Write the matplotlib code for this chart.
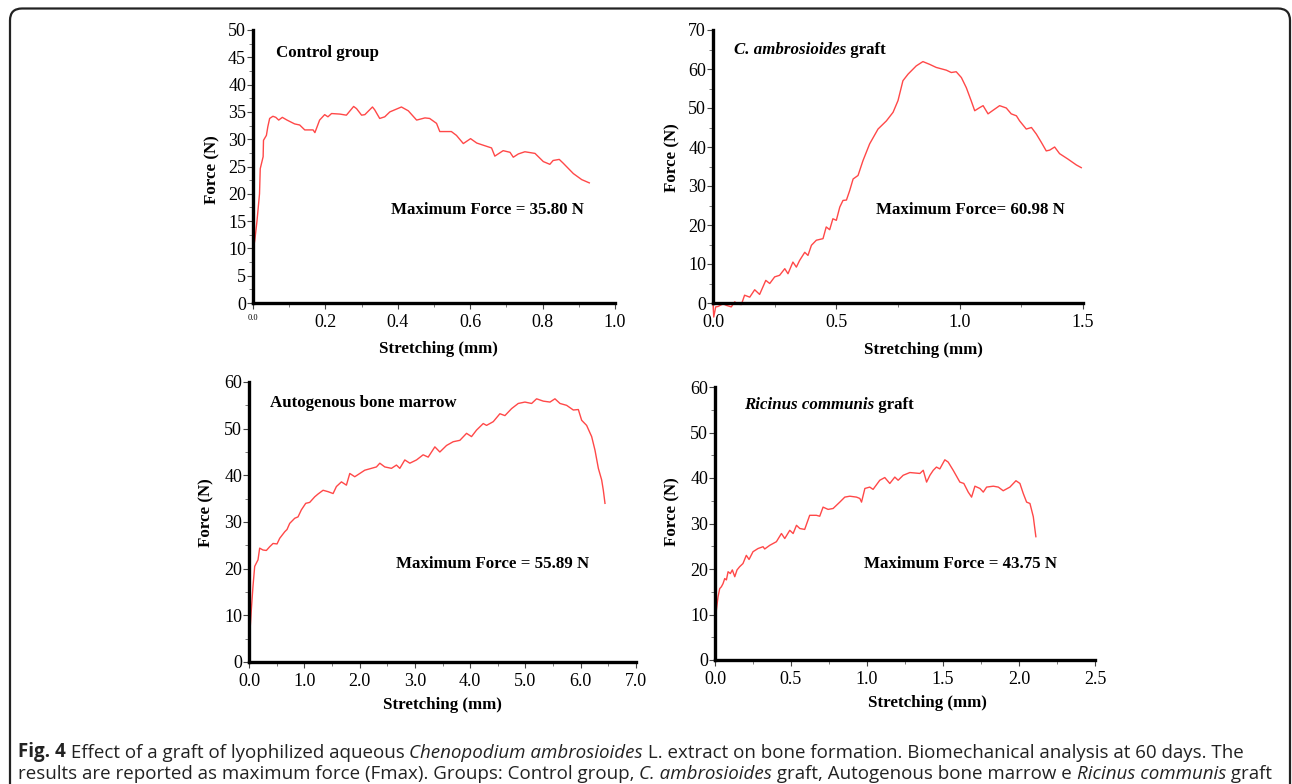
import matplotlib.pyplot as plt
from matplotlib.patches import FancyBboxPatch
from matplotlib.transforms import IdentityTransform
from matplotlib.ticker import MultipleLocator


# control group
x_ctrl = [0.0, 0.0, 0.005, 0.011, 0.018, 0.020, 0.028, 0.029, 0.037, 0.041, 0.046,
          0.055, 0.063, 0.071, 0.081, 0.094, 0.115, 0.129, 0.143, 0.166, 0.171,
          0.184, 0.198, 0.207, 0.217, 0.240, 0.258, 0.278, 0.286, 0.300, 0.309,
          0.330, 0.336, 0.350, 0.364, 0.378, 0.410, 0.429, 0.452, 0.475, 0.488,
          0.507, 0.516, 0.548, 0.562, 0.581, 0.601, 0.618, 0.636, 0.659, 0.668,
          0.691, 0.710, 0.719, 0.733, 0.751, 0.779, 0.802, 0.820, 0.829, 0.846,
          0.857, 0.885, 0.908, 0.929]
y_ctrl = [0.0, 9.6, 11.5, 15.0, 20.0, 24.6, 26.8, 29.8, 30.7, 32.3, 33.8,
          34.2, 34.0, 33.5, 34.0, 33.5, 32.8, 32.6, 31.7, 31.7, 31.2,
          33.5, 34.5, 34.1, 34.7, 34.6, 34.4, 36.0, 35.6, 34.4, 34.5,
          35.9, 35.4, 33.8, 34.1, 35.0, 35.9, 35.2, 33.5, 33.9, 33.8,
          32.9, 31.4, 31.4, 30.7, 29.2, 30.1, 29.3, 28.9, 28.4, 26.9,
          27.9, 27.6, 26.7, 27.3, 27.7, 27.4, 25.9, 25.4, 26.1, 26.3,
          25.6, 23.7, 22.6, 22.0]

# C. ambrosioides graft
x_camb = [0.000, 0.003, 0.011, 0.020, 0.041, 0.054, 0.074, 0.088, 0.101, 0.115,
          0.128, 0.149, 0.169, 0.189, 0.214, 0.230, 0.250, 0.270, 0.291, 0.304,
          0.324, 0.338, 0.351, 0.372, 0.385, 0.399, 0.419, 0.446, 0.459, 0.473,
          0.486, 0.500, 0.514, 0.527, 0.541, 0.554, 0.568, 0.588, 0.608, 0.635,
          0.669, 0.703, 0.730, 0.750, 0.770, 0.791, 0.824, 0.851, 0.878, 0.905,
          0.946, 0.966, 0.986, 1.007, 1.027, 1.047, 1.061, 1.081, 1.095, 1.115,
          1.135, 1.162, 1.189, 1.209, 1.230, 1.243, 1.270, 1.291, 1.311, 1.331,
          1.351, 1.365, 1.385, 1.405, 1.439, 1.473, 1.493]
y_camb = [0.0, -3.6, -1.0, -0.9, -0.2, -0.6, -1.0, 0.3, -0.3, -0.4,
          2.0, 1.5, 3.4, 2.2, 5.8, 5.0, 6.7, 7.1, 8.8, 7.5,
          10.5, 9.2, 10.9, 13.0, 12.2, 14.8, 16.1, 16.5, 19.5, 18.8,
          21.6, 21.2, 24.6, 26.3, 26.4, 28.8, 31.8, 32.7, 36.5, 40.8,
          44.6, 46.7, 48.9, 51.9, 57.0, 58.7, 60.8, 61.9, 61.2, 60.4,
          59.7, 59.1, 59.3, 57.8, 55.2, 51.8, 49.3, 50.1, 50.6, 48.5,
          49.4, 50.6, 50.0, 48.5, 48.0, 46.7, 44.6, 45.0, 43.3, 41.2,
          39.0, 39.2, 40.0, 38.3, 36.9, 35.4, 34.7]

# autogenous bone marrow
x_auto = [0.000, 0.012, 0.042, 0.072, 0.103, 0.163, 0.193, 0.253, 0.314, 0.374,
          0.435, 0.507, 0.555, 0.646, 0.688, 0.736, 0.827, 0.887, 0.947, 1.026,
          1.098, 1.189, 1.249, 1.340, 1.430, 1.521, 1.581, 1.672, 1.762, 1.823,
          1.913, 2.004, 2.094, 2.215, 2.305, 2.366, 2.456, 2.577, 2.667, 2.728,
          2.818, 2.909, 3.030, 3.150, 3.241, 3.362, 3.452, 3.573, 3.693, 3.814,
          3.935, 4.025, 4.116, 4.237, 4.297, 4.418, 4.538, 4.629, 4.750, 4.870,
          4.991, 5.112, 5.202, 5.323, 5.444, 5.534, 5.625, 5.745, 5.866, 5.957,
          6.017, 6.107, 6.198, 6.258, 6.319, 6.379, 6.409, 6.439]
y_auto = [0.0, 5.5, 11.2, 16.2, 20.5, 21.9, 24.4, 24.0, 23.9, 24.7,
          25.4, 25.3, 26.5, 27.9, 28.4, 29.7, 30.8, 31.1, 32.6, 34.0,
          34.2, 35.4, 36.0, 36.8, 36.5, 36.1, 37.6, 38.6, 37.9, 40.4,
          39.7, 40.4, 41.1, 41.5, 41.8, 42.6, 41.8, 41.5, 42.2, 41.5,
          43.3, 42.6, 43.3, 44.4, 43.9, 46.1, 45.0, 46.4, 47.2, 47.5,
          49.0, 48.3, 49.7, 51.1, 50.7, 51.5, 53.2, 52.8, 54.3, 55.4,
          55.7, 55.4, 56.4, 55.9, 55.7, 56.4, 55.4, 55.0, 54.0, 54.1,
          51.8, 50.7, 48.3, 45.4, 41.5, 39.0, 36.8, 34.0]

# Ricinus communis graft
x_ric = [0.000, 0.002, 0.009, 0.020, 0.031, 0.042, 0.053, 0.064, 0.075, 0.086,
         0.101, 0.114, 0.130, 0.145, 0.162, 0.184, 0.206, 0.224, 0.250, 0.283,
         0.316, 0.327, 0.360, 0.404, 0.437, 0.459, 0.492, 0.514, 0.536, 0.558,
         0.590, 0.623, 0.667, 0.689, 0.711, 0.744, 0.777, 0.821, 0.854, 0.887,
         0.931, 0.953, 0.964, 0.986, 1.018, 1.040, 1.084, 1.117, 1.150, 1.183,
         1.205, 1.238, 1.282, 1.348, 1.370, 1.392, 1.414, 1.436, 1.457, 1.479,
         1.512, 1.534, 1.567, 1.611, 1.637, 1.666, 1.688, 1.710, 1.743, 1.765,
         1.787, 1.831, 1.864, 1.896, 1.940, 1.980, 2.006, 2.028, 2.050, 2.072,
         2.094, 2.111]
y_ric = [0.0, 7.3, 11.0, 13.9, 15.7, 16.1, 16.8, 17.9, 17.6, 19.4,
         19.0, 19.8, 18.3, 19.8, 20.5, 21.2, 23.0, 22.1, 23.8, 24.5,
         24.9, 24.4, 25.2, 26.0, 27.8, 26.7, 28.5, 27.8, 29.6, 28.9,
         28.7, 31.8, 31.8, 31.6, 33.6, 33.1, 33.3, 34.7, 35.8, 36.0,
         35.8, 35.5, 34.7, 37.7, 38.0, 37.5, 39.5, 40.1, 38.8, 40.2,
         39.5, 40.6, 41.2, 41.0, 41.7, 39.1, 40.6, 41.7, 42.4, 42.0,
         44.0, 43.5, 41.7, 39.1, 38.8, 36.9, 35.8, 38.2, 37.7, 36.9,
         38.0, 38.2, 38.0, 37.2, 38.0, 39.4, 38.8, 36.6, 34.7, 34.4,
         31.5, 27.1]

W, H = 1292, 784
plt.rcParams['font.family'] = ['Liberation Serif', 'DejaVu Serif']
plt.rcParams['font.size'] = 13

fig = plt.figure(figsize=(W / 100, H / 100), dpi=100)

# rounded frame around the whole figure
frame = FancyBboxPatch((10, -30), 1280, H - 8.5 + 30,
                       boxstyle="round,pad=0,rounding_size=12",
                       transform=IdentityTransform(), facecolor='none',
                       edgecolor='#222222', linewidth=1.6)
fig.patches.append(frame)


def make_ax(left, top, right, bottom):
    ax = fig.add_axes([left / W, 1 - bottom / H, (right - left) / W, (bottom - top) / H])
    for s in ['top', 'right']:
        ax.spines[s].set_visible(False)
    for s in ['left', 'bottom']:
        ax.spines[s].set_linewidth(2.4)
    ax.tick_params(which='major', length=4, width=0.8, pad=1, color='#444444')
    ax.tick_params(which='minor', length=3, width=0.6, color='#666666')
    ax.tick_params(axis='x', pad=4)
    return ax


def labels(ax, xl, yl):
    # label centres given in pixels
    bb = ax.get_position()
    x0, x1 = bb.x0 * W, bb.x1 * W
    y0, y1 = (1 - bb.y1) * H, (1 - bb.y0) * H
    ax.set_xlabel('Stretching (mm)', fontweight='bold', fontsize=12.2, va='center')
    ax.set_ylabel('Force (N)', fontweight='bold', fontsize=12.2, va='center')
    ax.xaxis.set_label_coords((xl[0] - x0) / (x1 - x0), (y1 - xl[1]) / (y1 - y0))
    ax.yaxis.set_label_coords((yl[0] - x0) / (x1 - x0), (y1 - yl[1]) / (y1 - y0))


def chain_text(x, y, pieces, size, family=None, color='black', va='center'):
    # consecutive text pieces (text, style, weight) starting at pixel (x, y)
    kw = dict(fontsize=size, color=color, ha='left')
    if family:
        kw['family'] = family
    txt, st, wt = pieces[0]
    prev = fig.text(x / W, 1 - y / H, txt, style=st, fontweight=wt, va=va, **kw)
    for txt, st, wt in pieces[1:]:
        prev = fig.text(1, 0, txt, style=st, fontweight=wt, va='bottom',
                        transform=prev.get_transform(), **kw) if False else \
            plt.annotate(txt, xy=(1, 0), xycoords=prev, style=st, fontweight=wt,
                         va='bottom', **kw)
    return prev


red = '#ff4848'

# panel 1
ax1 = make_ax(253, 30, 615, 303)
ax1.plot(x_ctrl, y_ctrl, color=red, lw=1.0)
ax1.set_xlim(0, 1.0)
ax1.set_ylim(0, 50)
ax1.set_xticks([0, 0.2, 0.4, 0.6, 0.8, 1.0])
ax1.set_xticklabels(['0.0', '0.2', '0.4', '0.6', '0.8', '1.0'])
ax1.get_xticklabels()[0].set_fontsize(6)
ax1.xaxis.set_minor_locator(MultipleLocator(0.1))
ax1.yaxis.set_major_locator(MultipleLocator(5))
ax1.yaxis.set_minor_locator(MultipleLocator(2.5))
labels(ax1, (438, 349), (212, 170))

# panel 2
ax2 = make_ax(713, 30, 1083, 303)
ax2.plot(x_camb, y_camb, color=red, lw=1.0, clip_on=False)
ax2.set_xlim(0, 1.5)
ax2.set_ylim(0, 70)
ax2.set_xticks([0, 0.5, 1.0, 1.5])
ax2.set_xticklabels(['0.0', '0.5', '1.0', '1.5'])
ax2.xaxis.set_minor_locator(MultipleLocator(0.25))
ax2.yaxis.set_major_locator(MultipleLocator(10))
ax2.yaxis.set_minor_locator(MultipleLocator(5))
labels(ax2, (923, 350), (672, 158))

# panel 3
ax3 = make_ax(249, 382, 636, 662)
ax3.plot(x_auto, y_auto, color=red, lw=1.0)
ax3.set_xlim(0, 7.0)
ax3.set_ylim(0, 60)
ax3.set_xticks(range(8))
ax3.set_xticklabels(['%.1f' % v for v in range(8)])
ax3.xaxis.set_minor_locator(MultipleLocator(0.5))
ax3.yaxis.set_major_locator(MultipleLocator(10))
ax3.yaxis.set_minor_locator(MultipleLocator(5))
labels(ax3, (442, 705), (206, 513))

# panel 4
ax4 = make_ax(715, 387, 1095, 660)
ax4.plot(x_ric, y_ric, color=red, lw=1.0)
ax4.set_xlim(0, 2.5)
ax4.set_ylim(0, 60)
ax4.set_xticks([0, 0.5, 1.0, 1.5, 2.0, 2.5])
ax4.set_xticklabels(['0.0', '0.5', '1.0', '1.5', '2.0', '2.5'])
ax4.xaxis.set_minor_locator(MultipleLocator(0.25))
ax4.yaxis.set_major_locator(MultipleLocator(10))
ax4.yaxis.set_minor_locator(MultipleLocator(5))
labels(ax4, (927, 703), (672, 512))

# panel annotations
B = 'bold'
chain_text(276, 53, [('Control group', 'normal', B)], 12.2)
chain_text(391, 210, [('Maximum Force = 35.80 N', 'normal', B)], 12.2)
chain_text(734, 50, [('C. ambrosioides', 'italic', B), (' graft', 'normal', B)], 12.2)
chain_text(876, 210, [('Maximum Force= 60.98 N', 'normal', B)], 12.2)
chain_text(270, 403, [('Autogenous bone marrow', 'normal', B)], 12.2)
chain_text(396, 564, [('Maximum Force = 55.89 N', 'normal', B)], 12.2)
chain_text(744, 405, [('Ricinus communis', 'italic', B), (' graft', 'normal', B)], 12.2)
chain_text(864, 564, [('Maximum Force = 43.75 N', 'normal', B)], 12.2)

# caption
cap1 = [('Fig. 4', 'normal', 'bold'),
        (' Effect of a graft of lyophilized aqueous ', 'normal', 'normal'),
        ('Chenopodium ambrosioides', 'italic', 'normal'),
        (' L. extract on bone formation. Biomechanical analysis at 60 days. The', 'normal', 'normal')]
cap2 = [('results are reported as maximum force (Fmax). Groups: Control group, ', 'normal', 'normal'),
        ('C. ambrosioides', 'italic', 'normal'),
        (' graft, Autogenous bone marrow e ', 'normal', 'normal'),
        ('Ricinus communis', 'italic', 'normal'),
        (' graft', 'normal', 'normal')]
chain_text(18, 757, cap1, 13.5, family=['Open Sans', 'DejaVu Sans'],
           color='#222222', va='baseline')
chain_text(18, 779, cap2, 13.5, family=['Open Sans', 'DejaVu Sans'],
           color='#222222', va='baseline')

fig.savefig('out.png', dpi=100)
